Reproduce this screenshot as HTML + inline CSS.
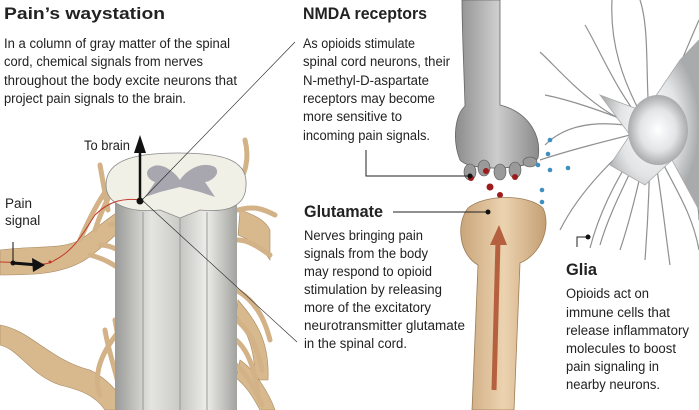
<!DOCTYPE html>
<html><head><meta charset="utf-8"><style>
html,body{margin:0;padding:0;background:#fff;}
svg{display:block;}
text{font-family:"Liberation Sans Narrow","Liberation Sans",sans-serif;fill:#222;}
.h{font-weight:bold;font-size:17px;}
.b{font-size:13.5px;}
</style></head><body>
<svg width="699" height="410" viewBox="0 0 699 410" xmlns="http://www.w3.org/2000/svg">
<defs>
<linearGradient id="col" x1="0" x2="1"><stop offset="0" stop-color="#9a9a98"/><stop offset=".3" stop-color="#e4e4e0"/><stop offset=".55" stop-color="#c8c8c4"/><stop offset=".75" stop-color="#ecece8"/><stop offset="1" stop-color="#a2a29e"/></linearGradient>
<linearGradient id="ax" x1="0" x2="1"><stop offset="0" stop-color="#8c8c8c"/><stop offset=".5" stop-color="#cdcdcd"/><stop offset="1" stop-color="#8a8a8a"/></linearGradient>
<radialGradient id="bulb" cx=".5" cy=".4" r=".6"><stop offset="0" stop-color="#d0d0d0"/><stop offset="1" stop-color="#8a8a8a"/></radialGradient>
<linearGradient id="tan" x1="0" x2="1"><stop offset="0" stop-color="#c9a57a"/><stop offset=".5" stop-color="#ecd3b0"/><stop offset="1" stop-color="#c49f73"/></linearGradient>
<radialGradient id="glia" cx=".5" cy=".5" r=".5"><stop offset="0" stop-color="#fff"/><stop offset=".6" stop-color="#e2e4e6"/><stop offset="1" stop-color="#a8aaac"/></radialGradient>
</defs>

<!-- nerve roots -->
<g fill="#d8b98e" stroke="#a88860" stroke-width=".6">
<path d="M0 250 C40 245 60 250 80 240 C95 230 110 215 130 205 L140 215 C120 230 100 250 85 260 C60 275 30 275 0 275Z"/>
<path d="M0 325 C30 330 50 360 90 370 C110 380 120 395 130 410 L105 410 C95 395 80 390 60 385 C30 375 20 350 0 345Z"/>
<path d="M240 210 C255 215 265 220 270 230 L270 260 C260 245 250 240 238 235Z"/>
<path d="M238 300 C255 320 270 340 268 380 L255 380 C255 345 245 330 236 315Z"/>
<path d="M240 360 C255 370 270 395 275 410 L260 410 C252 395 245 385 236 378Z"/>
</g>
<g stroke="#d2b286" stroke-width="5" fill="none" stroke-linecap="round">
<path d="M80 240 C95 205 110 180 130 165"/>
<path d="M95 230 C105 200 115 185 125 175"/>
<path d="M110 225 C125 220 130 230 140 235"/>
<path d="M100 245 C115 245 125 255 135 262"/>
<path d="M90 255 C110 260 120 270 130 275"/>
<path d="M100 165 L108 210"/>
<path d="M115 320 C120 350 125 370 130 390"/>
<path d="M105 330 C110 360 120 380 120 400"/>
<path d="M120 330 C95 360 95 380 100 395"/>
<path d="M235 190 C245 175 250 160 245 140"/>
<path d="M238 210 C255 205 265 210 275 215"/>
<path d="M238 240 C250 240 262 250 270 255"/>
<path d="M236 290 C255 300 265 320 270 340"/>
<path d="M236 320 C250 330 258 350 262 370"/>
<path d="M236 340 C248 350 255 370 258 395"/>
<path d="M236 365 C248 375 255 390 262 405"/>
</g>
<!-- spinal cord -->
<rect x="115" y="185" width="122" height="225" fill="url(#col)"/>
<g stroke="#888" stroke-width=".8"><line x1="143" y1="212" x2="143" y2="410"/><line x1="180" y1="218" x2="180" y2="410"/><line x1="207" y1="212" x2="207" y2="410"/></g>
<path d="M106 185 C106 158 140 153 178 153 C218 153 248 158 246 185 C246 205 230 213 200 210 L180 218 L160 210 C130 213 106 205 106 185Z" fill="#f1f0e6" stroke="#888" stroke-width=".8"/>
<path d="M150 168 C160 160 175 172 180 180 C185 172 200 160 215 167 C222 174 210 182 205 182 L215 197 L200 192 L180 187 L160 192 L145 197 L155 182 C148 180 144 172 150 168Z" fill="#a8a7b0"/>
<!-- pain signal path -->
<path d="M0 262 C30 262 45 268 55 260 C75 250 85 230 95 215 C110 200 125 198 140 200" stroke="#c0392b" stroke-width="1" fill="none"/>
<circle cx="50" cy="262" r="1.5" fill="#c0392b"/>
<line x1="13" y1="263" x2="38" y2="265" stroke="#111" stroke-width="3"/>
<path d="M45 265 L32 258 L33 272Z" fill="#111"/>
<line x1="13" y1="242" x2="13" y2="263" stroke="#111" stroke-width="1"/>
<circle cx="13" cy="263" r="2.5" fill="#111"/>
<line x1="140" y1="200" x2="140" y2="150" stroke="#111" stroke-width="2.5"/>
<path d="M140 135 L134 153 L146 153Z" fill="#111"/>
<circle cx="140" cy="201" r="3.5" fill="#111"/>
<line x1="142" y1="200" x2="295" y2="42" stroke="#222" stroke-width=".6"/>
<line x1="142" y1="200" x2="297" y2="342" stroke="#222" stroke-width=".6"/>

<!-- glia -->
<g stroke="#8e9092" stroke-width="1.2" fill="none">
<path d="M650 130 C600 120 560 70 540 52"/><path d="M650 130 C610 140 570 150 540 160"/>
<path d="M650 130 C620 170 600 210 590 248"/><path d="M650 130 C640 180 630 220 620 250"/>
<path d="M650 130 C660 180 665 230 670 265"/><path d="M650 130 C690 170 699 200 699 220"/>
<path d="M650 130 C620 100 600 50 585 25"/><path d="M650 130 C645 80 650 30 640 0"/>
<path d="M650 130 C670 90 690 40 699 20"/><path d="M650 130 C610 120 570 120 545 145"/>
<path d="M650 130 C620 150 580 190 560 230"/><path d="M650 130 C660 170 690 200 699 250"/>
<path d="M650 130 C630 175 610 210 600 245"/><path d="M650 130 C650 175 648 220 645 260"/>
<path d="M650 130 C600 110 570 100 545 95"/><path d="M650 130 C620 80 610 40 612 0"/>
</g>
<path d="M600 95 L645 112 L680 60 L699 40 L699 210 L672 160 L645 185 L610 165 L630 135 Z" fill="url(#glia)" stroke="#aaa" stroke-width=".8"/>
<ellipse cx="658" cy="130" rx="30" ry="35" fill="url(#glia)"/>
<!-- axon grey -->
<path d="M462 0 L500 0 L500 105 C528 112 542 135 538 158 C530 170 470 172 460 160 C452 140 455 115 465 106 C464 70 462 30 462 0Z" fill="url(#ax)" stroke="#666" stroke-width=".8"/>
<g fill="#9a9a9a" stroke="#555" stroke-width=".6">
<ellipse cx="470" cy="172" rx="6" ry="8"/><ellipse cx="484" cy="168" rx="6" ry="8"/><ellipse cx="500" cy="172" rx="6" ry="8"/><ellipse cx="515" cy="170" rx="6" ry="8"/><ellipse cx="530" cy="162" rx="7" ry="5"/>
</g>
<g fill="#9e1b1b"><circle cx="471" cy="178" r="3"/><circle cx="486" cy="171" r="3"/><circle cx="515" cy="177" r="3"/><circle cx="490" cy="187" r="3.5"/><circle cx="500" cy="195" r="3"/><circle cx="518" cy="205" r="3"/><circle cx="493" cy="214" r="3"/></g>
<g fill="#3f8fc0"><circle cx="550" cy="140" r="2.3"/><circle cx="548" cy="154" r="2.3"/><circle cx="538" cy="165" r="2.3"/><circle cx="550" cy="170" r="2.3"/><circle cx="542" cy="190" r="2.3"/><circle cx="568" cy="168" r="2.3"/><circle cx="542" cy="202" r="2.3"/></g>
<!-- dendrite tan -->
<path d="M472 410 L478 265 C460 255 455 225 468 208 C485 194 528 194 543 208 C552 228 540 255 520 263 L514 410 Z" fill="url(#tan)" stroke="#9d7c55" stroke-width=".8"/>
<path d="M494 390 L498 240" stroke="#b5613f" stroke-width="5"/>
<path d="M499 225 L490 245 L507 245Z" fill="#b5613f"/>

<!-- leaders -->
<polyline points="366,150 366,176 470,176" fill="none" stroke="#222" stroke-width="1"/>
<circle cx="470" cy="176" r="2.5" fill="#111"/>
<line x1="393" y1="212" x2="488" y2="212" stroke="#222" stroke-width="1"/>
<circle cx="488" cy="212" r="2.5" fill="#111"/>
<polyline points="577,247 577,237 588,237" fill="none" stroke="#222" stroke-width="1"/>
<circle cx="588" cy="237" r="2.5" fill="#111"/>

<!-- text -->
<text class="h" x="4" y="19" textLength="161" lengthAdjust="spacingAndGlyphs">Pain’s waystation</text>
<text class="b" x="4" y="48" textLength="226" lengthAdjust="spacingAndGlyphs">In a column of gray matter of the spinal</text>
<text class="b" x="4" y="66" textLength="199" lengthAdjust="spacingAndGlyphs">cord, chemical signals from nerves</text>
<text class="b" x="4" y="85" textLength="233" lengthAdjust="spacingAndGlyphs">throughout the body excite neurons that</text>
<text class="b" x="4" y="103" textLength="182" lengthAdjust="spacingAndGlyphs">project pain signals to the brain.</text>
<text class="b" x="84" y="150" textLength="46" lengthAdjust="spacingAndGlyphs">To brain</text>
<text class="b" x="5" y="208">Pain</text>
<text class="b" x="5" y="225">signal</text>

<text class="h" x="303" y="19" textLength="124" lengthAdjust="spacingAndGlyphs">NMDA receptors</text>
<text class="b" x="303" y="48" textLength="112" lengthAdjust="spacingAndGlyphs">As opioids stimulate</text>
<text class="b" x="303" y="66" textLength="147" lengthAdjust="spacingAndGlyphs">spinal cord neurons, their</text>
<text class="b" x="303" y="85" textLength="126" lengthAdjust="spacingAndGlyphs">N-methyl-D-aspartate</text>
<text class="b" x="303" y="103" textLength="132" lengthAdjust="spacingAndGlyphs">receptors may become</text>
<text class="b" x="303" y="121" textLength="99" lengthAdjust="spacingAndGlyphs">more sensitive to</text>
<text class="b" x="303" y="140" textLength="127" lengthAdjust="spacingAndGlyphs">incoming pain signals.</text>

<text class="h" x="304" y="217" textLength="79" lengthAdjust="spacingAndGlyphs">Glutamate</text>
<text class="b" x="304" y="240" textLength="119" lengthAdjust="spacingAndGlyphs">Nerves bringing pain</text>
<text class="b" x="304" y="258" textLength="124" lengthAdjust="spacingAndGlyphs">signals from the body</text>
<text class="b" x="304" y="276" textLength="128" lengthAdjust="spacingAndGlyphs">may respond to opioid</text>
<text class="b" x="304" y="294" textLength="138" lengthAdjust="spacingAndGlyphs">stimulation by releasing</text>
<text class="b" x="304" y="312" textLength="127" lengthAdjust="spacingAndGlyphs">more of the excitatory</text>
<text class="b" x="304" y="330" textLength="161" lengthAdjust="spacingAndGlyphs">neurotransmitter glutamate</text>
<text class="b" x="304" y="348" textLength="103" lengthAdjust="spacingAndGlyphs">in the spinal cord.</text>

<text class="h" x="566" y="275" textLength="31" lengthAdjust="spacingAndGlyphs">Glia</text>
<text class="b" x="566" y="298" textLength="83" lengthAdjust="spacingAndGlyphs">Opioids act on</text>
<text class="b" x="566" y="317" textLength="104" lengthAdjust="spacingAndGlyphs">immune cells that</text>
<text class="b" x="566" y="335" textLength="123" lengthAdjust="spacingAndGlyphs">release inflammatory</text>
<text class="b" x="566" y="353" textLength="110" lengthAdjust="spacingAndGlyphs">molecules to boost</text>
<text class="b" x="566" y="371" textLength="93" lengthAdjust="spacingAndGlyphs">pain signaling in</text>
<text class="b" x="566" y="389" textLength="94" lengthAdjust="spacingAndGlyphs">nearby neurons.</text>
</svg>
</body></html>
